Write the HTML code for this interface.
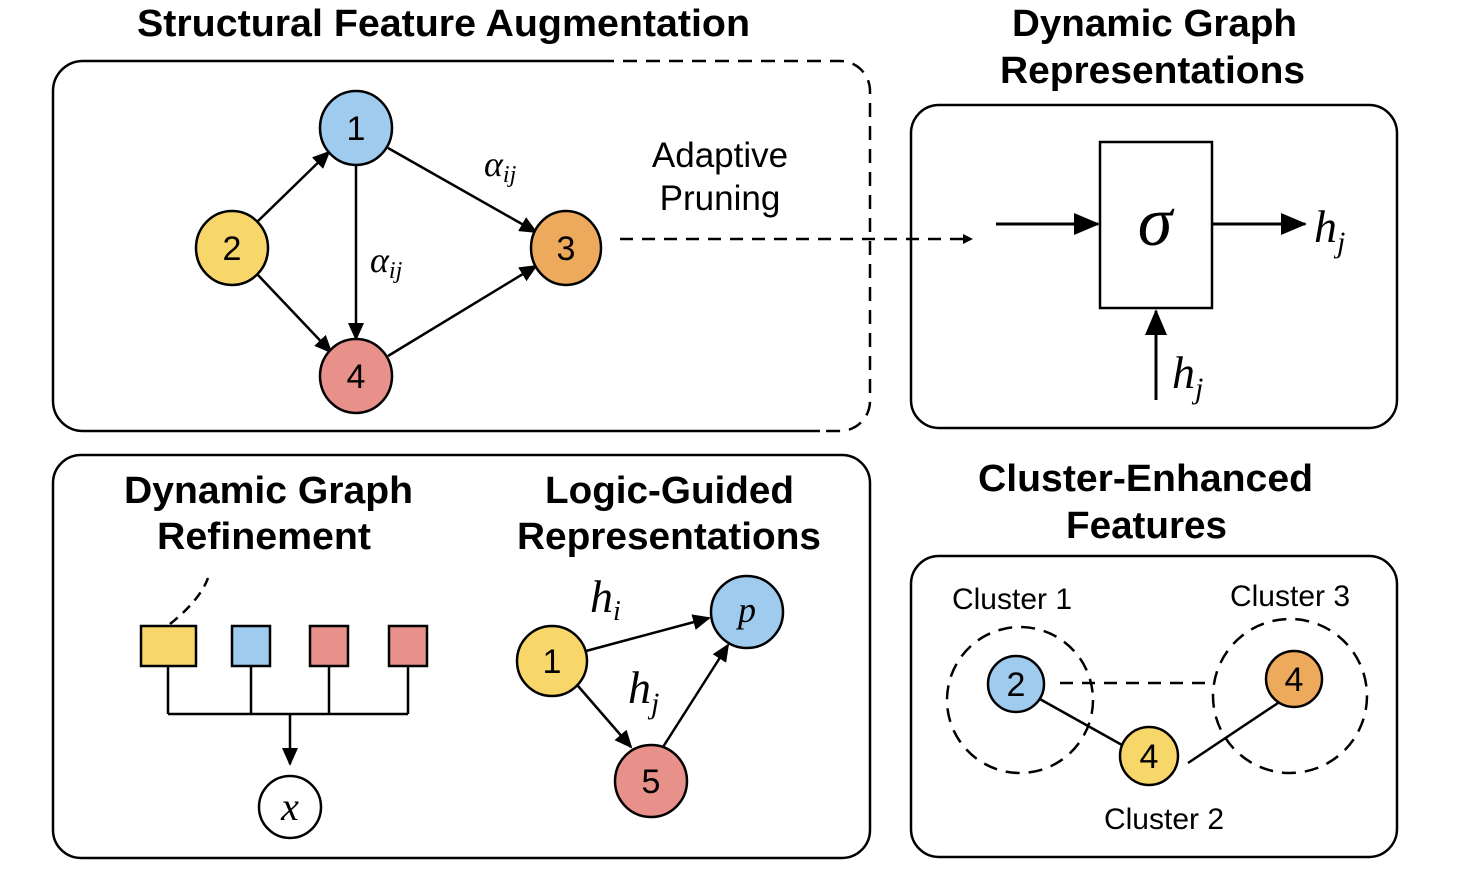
<!DOCTYPE html>
<html><head><meta charset="utf-8"><style>body{margin:0;background:#fff}svg{display:block}</style></head><body>
<svg width="1464" height="891" viewBox="0 0 1464 891" xmlns="http://www.w3.org/2000/svg" font-family="Liberation Sans, sans-serif">
<defs><marker id="a" markerWidth="10" markerHeight="10" refX="9" refY="5" orient="auto" markerUnits="userSpaceOnUse"><path d="M0,0 L10,5 L0,10z" fill="#000"/></marker>
<marker id="b" markerWidth="26" markerHeight="22" refX="24" refY="11" orient="auto" markerUnits="userSpaceOnUse"><path d="M0,0 L26,11 L0,22z" fill="#000"/></marker>
<marker id="m" markerWidth="18" markerHeight="16" refX="16" refY="8" orient="auto" markerUnits="userSpaceOnUse"><path d="M0,0 L18,8 L0,16z" fill="#000"/></marker></defs>
<g font-weight="bold" font-size="38" fill="#000" lengthAdjust="spacingAndGlyphs">
<text x="137" y="36" textLength="613" lengthAdjust="spacingAndGlyphs">Structural Feature Augmentation</text>
<text x="1012" y="36" textLength="285" lengthAdjust="spacingAndGlyphs">Dynamic Graph</text><text x="1000" y="83" textLength="305" lengthAdjust="spacingAndGlyphs">Representations</text>
<text x="124" y="503" textLength="289" lengthAdjust="spacingAndGlyphs">Dynamic Graph</text><text x="157" y="549" textLength="214" lengthAdjust="spacingAndGlyphs">Refinement</text>
<text x="545" y="503" textLength="249" lengthAdjust="spacingAndGlyphs">Logic-Guided</text><text x="517" y="549" textLength="304" lengthAdjust="spacingAndGlyphs">Representations</text>
<text x="978" y="491" textLength="335" lengthAdjust="spacingAndGlyphs">Cluster-Enhanced</text><text x="1066" y="538" textLength="161" lengthAdjust="spacingAndGlyphs">Features</text>
</g>
<g fill="none" stroke="#000" stroke-width="2.5">
<path d="M600,61 H83 A30,30 0 0 0 53,91 V401 A30,30 0 0 0 83,431 H820"/>
<path d="M600,61 H840 A30,30 0 0 1 870,91 V401 A30,30 0 0 1 840,431 H820" stroke-dasharray="14,9"/>
<rect x="911" y="105" width="486" height="323" rx="28"/>
<rect x="53" y="455" width="817" height="403" rx="28"/>
<rect x="911" y="556" width="486" height="301" rx="28"/>
</g>
<g stroke="#000" stroke-width="2.5" fill="none">
<line x1="257" y1="222" x2="329" y2="152" marker-end="url(#m)"/>
<line x1="257" y1="274" x2="331" y2="352" marker-end="url(#m)"/>
<line x1="356" y1="165" x2="356" y2="339" marker-end="url(#m)"/>
<line x1="388" y1="148" x2="536" y2="232" marker-end="url(#m)"/>
<line x1="388" y1="356" x2="536" y2="266" marker-end="url(#m)"/>
<line x1="620" y1="239" x2="972" y2="239" stroke-dasharray="13,9" marker-end="url(#a)"/>
</g>
<g stroke="#000" stroke-width="2.5">
<ellipse cx="356" cy="128" rx="36" ry="37" fill="#9fcbef"/>
<ellipse cx="232" cy="248" rx="36" ry="37" fill="#f8d76a"/>
<ellipse cx="566" cy="248" rx="35" ry="37" fill="#eeaa5c"/>
<ellipse cx="356" cy="376" rx="36" ry="37" fill="#e8918a"/>
</g>
<g font-size="34" text-anchor="middle"><text x="356" y="140">1</text><text x="232" y="260">2</text><text x="566" y="260">3</text><text x="356" y="388">4</text></g>
<g font-family="Liberation Serif, serif" font-style="italic" font-size="36">
<text x="484" y="176">α<tspan font-size="24" dy="6">ij</tspan></text>
<text x="370" y="272">α<tspan font-size="24" dy="6">ij</tspan></text>
</g>
<text x="720" y="167" font-size="35" text-anchor="middle">Adaptive</text>
<text x="720" y="210" font-size="35" text-anchor="middle">Pruning</text>
<rect x="1100" y="142" width="112" height="166" fill="#fff" stroke="#000" stroke-width="2.5"/>
<text x="1155" y="245" font-family="Liberation Serif, serif" font-style="italic" font-size="70" text-anchor="middle">σ</text>
<g stroke="#000" stroke-width="3"><line x1="996" y1="224" x2="1098" y2="224" marker-end="url(#b)"/><line x1="1212" y1="224" x2="1305" y2="224" marker-end="url(#b)"/><line x1="1156" y1="400" x2="1156" y2="311" marker-end="url(#b)"/></g>
<g font-family="Liberation Serif, serif" font-style="italic" font-size="46">
<text x="1314" y="242">h<tspan font-size="30" dy="10">j</tspan></text>
<text x="1172" y="388">h<tspan font-size="30" dy="10">j</tspan></text>
<text x="590" y="612">h<tspan font-size="28" dy="8">i</tspan></text>
<text x="628" y="703">h<tspan font-size="30" dy="10">j</tspan></text>
</g>
<g stroke="#000" stroke-width="2.5">
<rect x="141" y="626" width="55" height="40" fill="#f8d76a"/>
<rect x="232" y="626" width="38" height="40" fill="#9fcbef"/>
<rect x="310" y="626" width="38" height="40" fill="#e8918a"/>
<rect x="389" y="626" width="38" height="40" fill="#e8918a"/>
<path d="M168,666 V714 M251,666 V714 M329,666 V714 M408,666 V714 M168,714 H408" fill="none"/>
<line x1="290" y1="714" x2="290" y2="764" marker-end="url(#m)"/>
<path d="M170,624 Q200,600 208,578" fill="none" stroke-dasharray="10,7"/>
<circle cx="290" cy="807" r="31" fill="#fff"/>
<line x1="586" y1="651" x2="709" y2="618" marker-end="url(#m)"/>
<line x1="578" y1="686" x2="631" y2="747" marker-end="url(#m)"/>
<line x1="663" y1="747" x2="728" y2="645" marker-end="url(#m)"/>
<circle cx="552" cy="661" r="35" fill="#f8d76a"/>
<circle cx="747" cy="612" r="36" fill="#9fcbef"/>
<circle cx="651" cy="781" r="36" fill="#e8918a"/>
</g>
<text x="290" y="820" font-family="Liberation Serif, serif" font-style="italic" font-size="40" text-anchor="middle">x</text>
<g font-size="34" text-anchor="middle"><text x="552" y="673">1</text><text x="651" y="793">5</text></g>
<text x="747" y="622" font-family="Liberation Serif, serif" font-style="italic" font-size="36" text-anchor="middle">p</text>
<g stroke="#000" stroke-width="2.5" fill="none">
<circle cx="1020" cy="700" r="73" stroke-dasharray="14,9"/>
<circle cx="1290" cy="696" r="77" stroke-dasharray="14,9"/>
<line x1="1060" y1="683" x2="1210" y2="683" stroke-dasharray="13,9"/>
<line x1="1038" y1="698" x2="1122" y2="745"/>
<line x1="1188" y1="763" x2="1278" y2="703"/>
<circle cx="1016" cy="684" r="28" fill="#9fcbef"/>
<circle cx="1294" cy="679" r="28" fill="#eeaa5c"/>
<circle cx="1149" cy="756" r="29" fill="#f8d76a"/>
</g>
<g font-size="34" text-anchor="middle"><text x="1016" y="696">2</text><text x="1294" y="691">4</text><text x="1149" y="768">4</text></g>
<g font-size="30" text-anchor="middle"><text x="1012" y="609">Cluster 1</text><text x="1290" y="606">Cluster 3</text><text x="1164" y="829">Cluster 2</text></g>
</svg>
</body></html>
